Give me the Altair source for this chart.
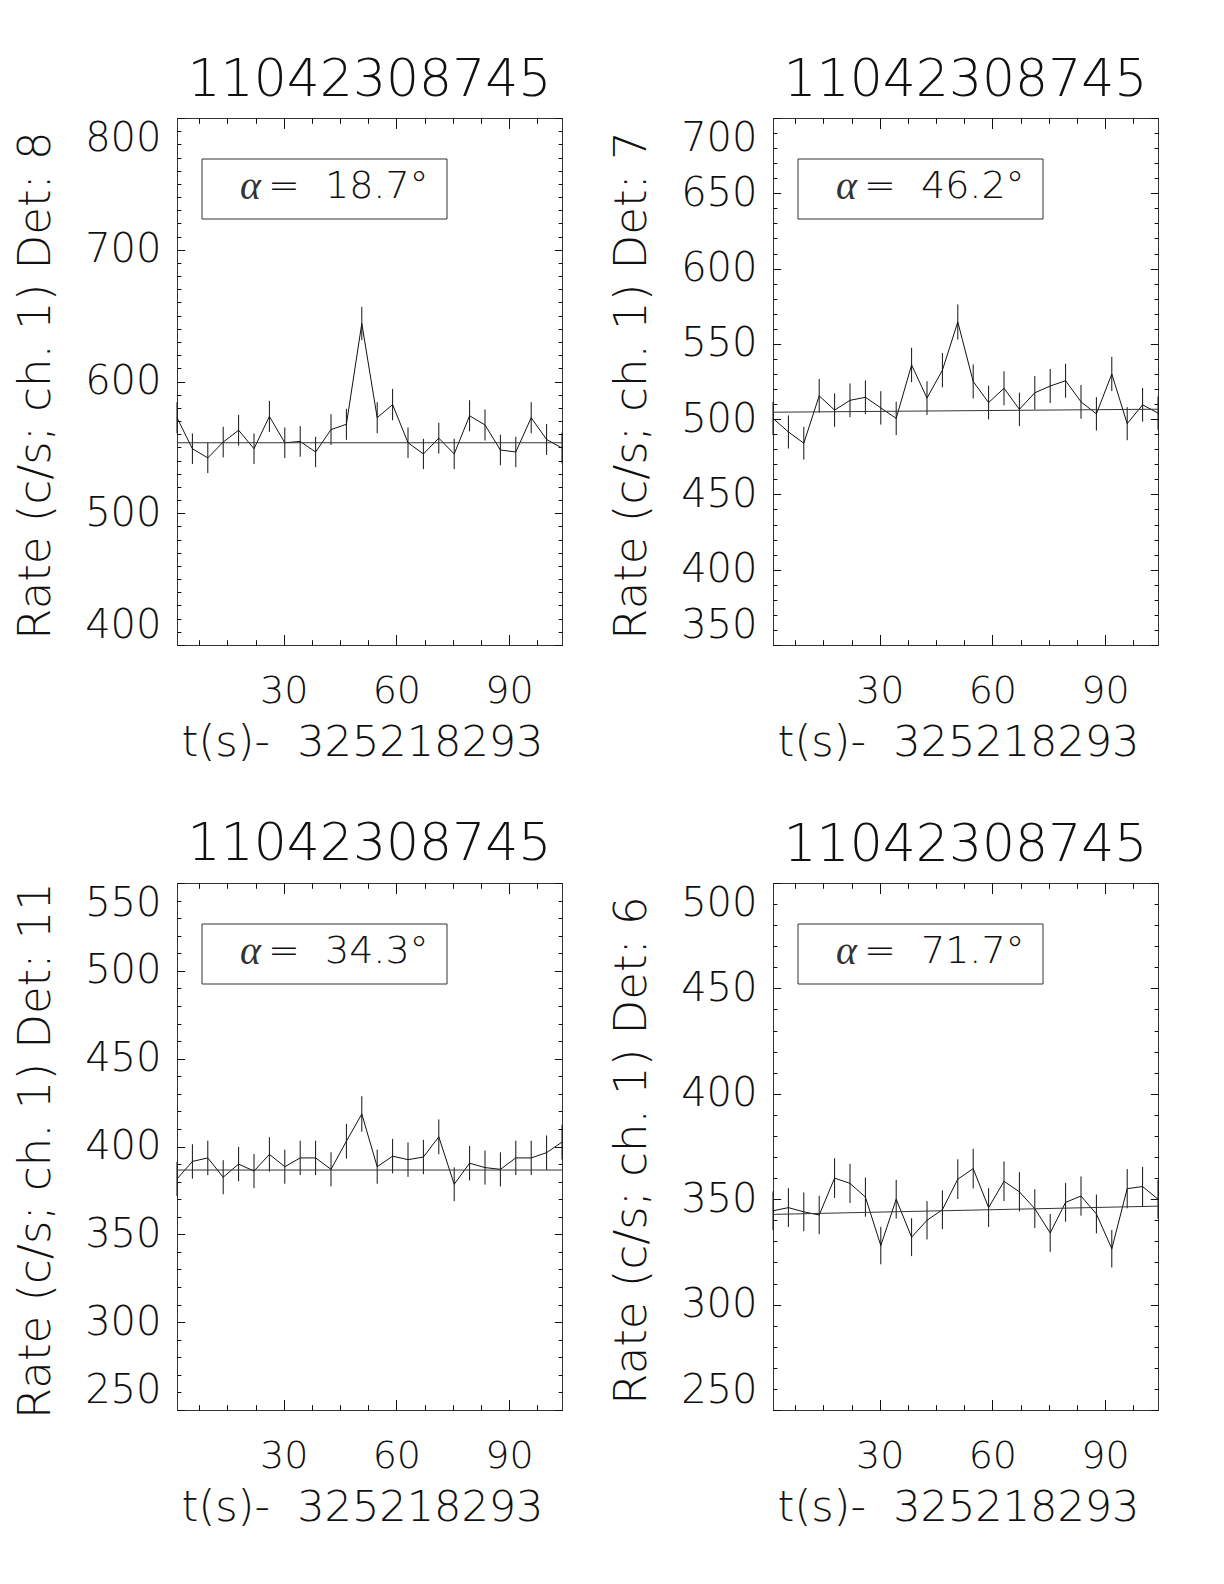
import altair as alt
import pandas as pd

# ---------------- data ----------------
T = [1.6, 5.7, 9.8, 13.9, 18.0, 22.1, 26.2, 30.3, 34.4, 38.5, 42.6, 46.7, 50.8,
     54.9, 59.0, 63.1, 67.2, 71.3, 75.4, 79.5, 83.6, 87.7, 91.8, 95.9, 100.0, 104.1]

TITLE = "11042308745"
XTITLE = "t(s)-\u00a0\u00a0325218293"
DETS = ["8", "7", "11", "6"]
ALPHAS = ["18.7", "46.2", "34.3", "71.7"]

RATE_8 = [572.5, 549, 542, 554, 563, 549, 573.5, 553.5, 554.5, 546.5, 563.5, 567.5, 644,
          572.5, 582.5, 553.5, 545, 557, 545, 574, 567, 548, 546.5, 572.5, 556, 549.5]
ERR_8 = [11.8, 11.6, 11.5, 11.6, 11.7, 11.6, 11.8, 11.6, 11.6, 11.5, 11.7, 11.8, 12.6,
         11.8, 11.9, 11.6, 11.5, 11.7, 11.5, 11.8, 11.8, 11.6, 11.5, 11.8, 11.7, 11.6]
BG_8 = [553.5, 553.5]

RATE_7 = [500.5, 491.5, 484, 515.5, 506, 512.5, 514.5, 507.5, 500.5, 536, 514, 532.5, 564.5,
          525, 511, 520.5, 506.5, 517.5, 522, 525.5, 511.5, 503.5, 530, 497, 509.5, 504]
ERR_7 = [11.1, 11.0, 10.9, 11.2, 11.1, 11.2, 11.2, 11.1, 11.1, 11.4, 11.2, 11.4, 11.7,
         11.3, 11.2, 11.3, 11.1, 11.2, 11.3, 11.3, 11.2, 11.1, 11.4, 11.0, 11.2, 11.1]
BG_7 = [504.6, 506.6]

RATE_11 = [381.5, 391.5, 393.5, 382.5, 390, 386, 395.5, 388.5, 393.5, 393.5, 387, 403, 418.5,
           388.5, 394.5, 392.5, 394, 405.5, 378.5, 390.5, 388, 387, 393.5, 393.5, 396.5, 402.5]
ERR_11 = [9.7, 9.8, 9.8, 9.7, 9.8, 9.7, 9.8, 9.7, 9.8, 9.8, 9.7, 9.9, 10.1,
          9.7, 9.8, 9.8, 9.8, 9.9, 9.6, 9.8, 9.7, 9.7, 9.8, 9.8, 9.8, 9.9]
BG_11 = [386.6, 386.6]

RATE_6 = [344.5, 346, 344, 342.5, 360, 357.5, 351, 328, 350, 332, 340, 345, 359.5,
          364.5, 346, 358.5, 353.5, 345.5, 334, 348.5, 351.5, 343, 326.5, 355, 356, 350]
ERR_6 = [9.2, 9.2, 9.2, 9.1, 9.4, 9.3, 9.3, 8.9, 9.2, 9.0, 9.1, 9.2, 9.4,
         9.4, 9.2, 9.4, 9.3, 9.2, 9.0, 9.2, 9.3, 9.2, 8.9, 9.3, 9.3, 9.2]
BG_6 = [342.8, 346.7]

YRANGES = [[400, 800], [350, 700], [250, 550], [250, 500]]
YSTEPS = [100, 50, 50, 50]
X_MAJOR = [30, 60, 90]
X_MINOR = [7.5, 15, 22.5, 30, 37.5, 45, 52.5, 60, 67.5, 75, 82.5, 90, 97.5]

# ---------------- styling ----------------
W, H = 385, 527
FONT = "DejaVu Sans"
FW = 200
INK = "#111111"
FRAME = "#333333"


def tsize(n):
    return {"expr": str(-n)}


COMMON = dict(domain=False, grid=False, tickColor=INK, tickWidth=1)


def panel(rate, err, bg, det, alpha, yr, ystep):
    df = pd.DataFrame({
        "t": T,
        "rate": rate,
        "lo": [r - e for r, e in zip(rate, err)],
        "hi": [r + e for r, e in zip(rate, err)],
    })
    bgdf = pd.DataFrame({"t": [T[0], T[-1]], "rate": bg})
    ann = pd.DataFrame({"a": ["\u03b1"], "eq": ["="], "v": [alpha + "\u00b0"]})

    xs = alt.Scale(domain=[T[0], T[-1]], nice=False, zero=False)
    ys = alt.Scale(domain=yr, nice=False, zero=False)
    ymaj = list(range(yr[0], yr[1] + 1, ystep))
    ymin = list(range(yr[0], yr[1] + 1, 10))

    ax_b = alt.Axis(orient="bottom", values=X_MAJOR, tickSize=tsize(10.5),
                    labels=True, labelFont=FONT, labelFontSize=38, labelFontWeight=FW,
                    labelColor=INK, labelPadding=37.5, labelOverlap=False,
                    title=XTITLE, titleFont=FONT, titleFontSize=43, titleFontWeight=FW,
                    titleColor=INK, titleX=185, titleY=97, titleBaseline="middle",
                    titleAlign="center", **COMMON)
    ax_b2 = alt.Axis(orient="bottom", values=X_MINOR, tickSize=tsize(5.3),
                     labels=False, title=None, **COMMON)
    ax_t = alt.Axis(orient="top", values=X_MAJOR, tickSize=tsize(10.5),
                    labels=False, title=None, **COMMON)
    ax_t2 = alt.Axis(orient="top", values=X_MINOR, tickSize=tsize(5.3),
                     labels=False, title=None, **COMMON)

    ay_l = alt.Axis(orient="left", values=ymaj, tickSize=tsize(7.7),
                    labels=True, labelFont=FONT, labelFontSize=40, labelFontWeight=FW,
                    labelColor=INK, labelPadding=23.7, labelFlush=True, labelOverlap=False,
                    title=f"Rate (c/s; ch. 1) Det: {det}", titleFont=FONT, titleFontSize=45,
                    titleFontWeight=FW, titleColor=INK, titleX=-142, titleY=267,
                    titleAngle=270, titleBaseline="middle", titleAlign="center", **COMMON)
    ay_l2 = alt.Axis(orient="left", values=ymin, tickSize=tsize(3.9),
                     labels=False, title=None, **COMMON)
    ay_r = alt.Axis(orient="right", values=ymaj, tickSize=tsize(7.7),
                    labels=False, title=None, **COMMON)
    ay_r2 = alt.Axis(orient="right", values=ymin, tickSize=tsize(3.9),
                     labels=False, title=None, **COMMON)

    line = alt.Chart(df).mark_line(color=INK, strokeWidth=1).encode(
        x=alt.X("t:Q", scale=xs, axis=ax_b),
        y=alt.Y("rate:Q", scale=ys, axis=ay_l),
    )
    rules = alt.Chart(df).mark_rule(color=INK, strokeWidth=1).encode(
        x=alt.X("t:Q", scale=xs, axis=ax_b2),
        y=alt.Y("lo:Q", scale=ys, axis=ay_l2),
        y2="hi:Q",
    )
    bgline = alt.Chart(bgdf).mark_line(color="#333333", strokeWidth=1).encode(
        x=alt.X("t:Q", scale=xs, axis=ax_t),
        y=alt.Y("rate:Q", scale=ys, axis=ay_r),
    )
    ghost = alt.Chart(df).mark_point(opacity=0).encode(
        x=alt.X("t:Q", scale=xs, axis=ax_t2),
        y=alt.Y("rate:Q", scale=ys, axis=ay_r2),
    )
    box = alt.Chart(ann).mark_rect(filled=False, stroke=FRAME, strokeWidth=1).encode(
        x=alt.value(25), x2=alt.value(270), y=alt.value(41), y2=alt.value(101)
    )
    t_a = alt.Chart(ann).mark_text(align="left", baseline="middle", font="Liberation Serif",
                                   fontSize=40, fontStyle="italic", color="#333333").encode(
        x=alt.value(63), y=alt.value(69), text="a:N")
    t_eq = alt.Chart(ann).mark_text(align="left", baseline="middle", font=FONT, fontSize=38,
                                    fontWeight=FW, color=INK).encode(
        x=alt.value(91), y=alt.value(69), text="eq:N")
    t_v = alt.Chart(ann).mark_text(align="left", baseline="middle", font=FONT, fontSize=38,
                                   fontWeight=FW, color=INK).encode(
        x=alt.value(148), y=alt.value(69), text="v:N")

    return alt.layer(line, rules, bgline, ghost, box, t_a, t_eq, t_v).resolve_axis(
        x="independent", y="independent"
    ).properties(
        width=W, height=H,
        title=alt.TitleParams(TITLE, font=FONT, fontSize=52, fontWeight=FW, color=INK,
                              offset=11, anchor="middle", frame="group"),
    )


p1 = panel(RATE_8, ERR_8, BG_8, DETS[0], ALPHAS[0], YRANGES[0], YSTEPS[0])
p2 = panel(RATE_7, ERR_7, BG_7, DETS[1], ALPHAS[1], YRANGES[1], YSTEPS[1])
p3 = panel(RATE_11, ERR_11, BG_11, DETS[2], ALPHAS[2], YRANGES[2], YSTEPS[2])
p4 = panel(RATE_6, ERR_6, BG_6, DETS[3], ALPHAS[3], YRANGES[3], YSTEPS[3])

chart = alt.concat(p1, p2, p3, p4, columns=2,
                   spacing={"row": 238, "column": 211}, bounds="flush").properties(
    padding={"left": 4, "top": 45, "right": 5, "bottom": 5},
    background="white",
).configure_view(stroke=FRAME, strokeWidth=1)

chart.save("out.html", embed_options={"renderer": "svg", "actions": False})
